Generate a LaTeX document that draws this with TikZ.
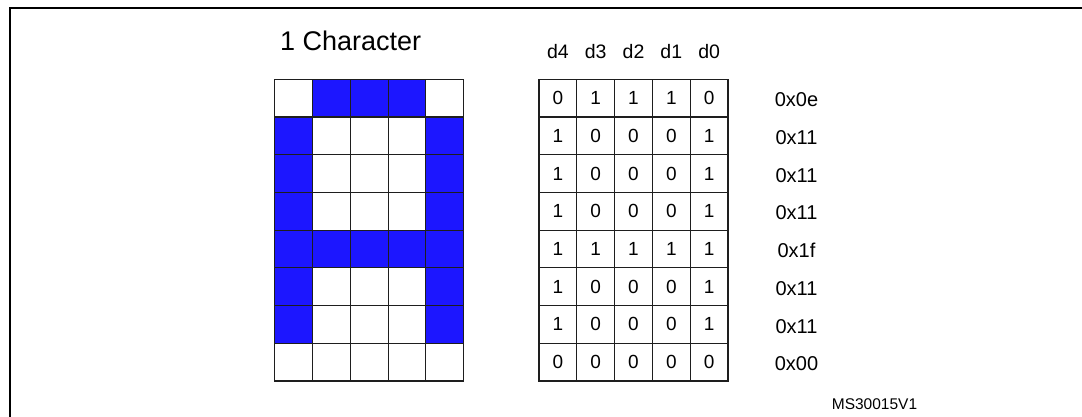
\documentclass[tikz,border=0pt]{standalone}
\usepackage{fontspec}
\setmainfont{Liberation Sans}
\usepackage{tikz}
\definecolor{lcdblue}{RGB}{28,22,255}
\definecolor{lcdline}{RGB}{30,30,30}
\tikzset{
  lcdCell/.style={draw=lcdline, line width=1.1pt, inner sep=0pt,
                  minimum width=37.8pt, minimum height=37.7pt,
                  font=\fontsize{19}{22}\selectfont},
  lcdOff/.style={fill=white},
  lcdOn/.style={fill=lcdblue},
  lcdHead/.style={inner sep=0pt, anchor=base, font=\fontsize{19.5}{22}\selectfont},
  lcdHex/.style={inner sep=0pt, font=\fontsize{20}{22}\selectfont},
  lcdFrame/.style={draw=black, line width=2pt}
}

\begin{document}
\begin{tikzpicture}[x=1pt,y=-1pt]
  \useasboundingbox (0,0) rectangle (1082,417);
  \draw[lcdFrame] (10,417) -- (10,8) -- (1082,8);

  \node[inner sep=0pt, anchor=base west, font=\fontsize{27}{30}\selectfont] (title) at (280,50.7) {1 Character};

  % column headers
  \foreach \h [count=\c from 0] in {4,3,2,1,0}
    \node[lcdHead] (head-\c) at (557.9+37.8*\c,58.3) {d\h};

  % pixel grid, bit table and hex value, row by row
  \foreach \bits/\hex [count=\r from 0] in {{0,1,1,1,0}/0x0e, {1,0,0,0,1}/0x11,
      {1,0,0,0,1}/0x11, {1,0,0,0,1}/0x11, {1,1,1,1,1}/0x1f,
      {1,0,0,0,1}/0x11, {1,0,0,0,1}/0x11, {0,0,0,0,0}/0x00} {
    \foreach \b [count=\c from 0] in \bits {
      \ifnum\b=1 \def\look{lcdOn}\else \def\look{lcdOff}\fi
      \node[lcdCell, \look] (pix-\r-\c) at (293.6+37.8*\c,98.2+37.7*\r) {};
      \node[lcdCell] (bit-\r-\c) at (557.9+37.8*\c,98.2+37.7*\r) {\b};
    }
    \node[lcdHex] (hex-\r) at (796.5,100+37.7*\r) {\hex};
  }

  \node[inner sep=0pt, font=\fontsize{15.5}{18}\selectfont] (ref) at (874.5,404) {MS30015V1};
\end{tikzpicture}
\end{document}
